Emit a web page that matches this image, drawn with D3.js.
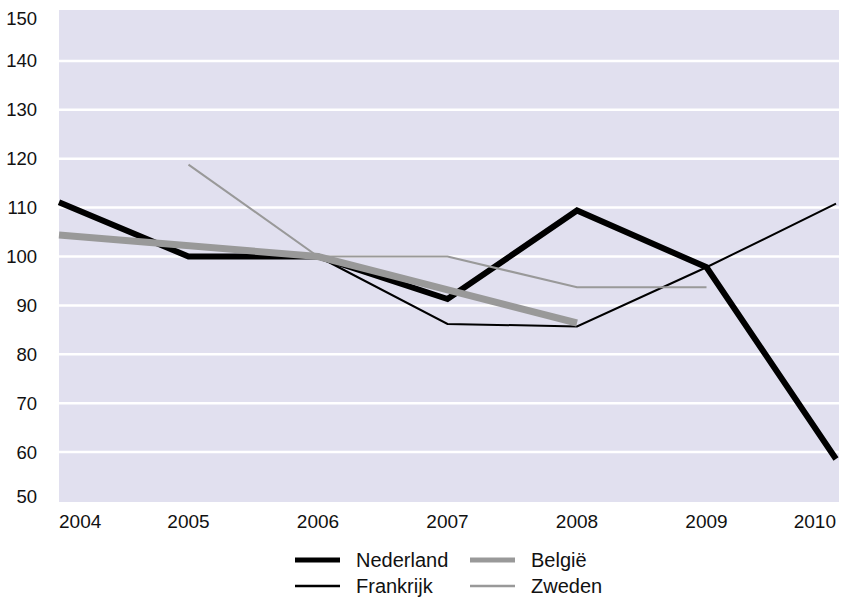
<!DOCTYPE html>
<html><head><meta charset="utf-8">
<script src="https://cdn.jsdelivr.net/npm/d3@7"></script>
<style>body{margin:0;background:#fff}svg{display:block}text{font-family:"Liberation Sans",Arial,sans-serif}</style>
</head><body><svg id="c" width="841" height="598"></svg>
<script>
const years = [2004, 2005, 2006, 2007, 2008, 2009, 2010];
const yTicks = [50, 60, 70, 80, 90, 100, 110, 120, 130, 140, 150];
const nederland = [111.1, 100, 100, 91.3, 109.4, 97.8, 58.6];
const belgie = [104.4, null, 100, null, 86.4, null, null];
const frankrijk = [null, null, 100, 86.2, 85.7, 97.8, 110.8];
const zweden = [null, 118.8, 100, 100, 93.7, 93.7, null];
const seriesNames = ["Nederland", "België", "Frankrijk", "Zweden"];

const series = [
  {name: seriesNames[0], values: nederland, color: "#000", width: 6},
  {name: seriesNames[2], values: frankrijk, color: "#000", width: 2},
  {name: seriesNames[3], values: zweden, color: "#999", width: 2},
  {name: seriesNames[1], values: belgie, color: "#999", width: 7},
];

const svg = d3.select("#c");
const pL = 59, pR = 839, pT = 10, pB = 502;
const x = d3.scaleLinear().domain([2004, 2010]).range([pL, 836]);
const y = d3.scaleLinear().domain([50, 150]).range([501, 12]);

svg.append("rect").attr("x", pL).attr("y", pT).attr("width", pR - pL).attr("height", pB - pT).attr("fill", "#e1e0ef");

svg.selectAll(".grid").data(yTicks.filter(d => d > 50 && d < 150)).join("line")
  .attr("x1", pL).attr("x2", pR).attr("y1", d => y(d)).attr("y2", d => y(d))
  .attr("stroke", "#fff").attr("stroke-width", 2.5);

svg.selectAll(".yl").data(yTicks).join("text")
  .attr("x", 37).attr("y", d => d === 150 ? 18 : d === 50 ? 496 : y(d))
  .attr("text-anchor", "end").attr("dominant-baseline", "central")
  .attr("font-size", 18.5).attr("fill", "#111").text(d => d);

svg.selectAll(".xl").data(years).join("text")
  .attr("x", (d, i) => i === 0 ? pL : i === years.length - 1 ? 836 : x(d))
  .attr("y", 521)
  .attr("text-anchor", (d, i) => i === 0 ? "start" : i === years.length - 1 ? "end" : "middle")
  .attr("dominant-baseline", "central")
  .attr("font-size", 19).attr("fill", "#111").text(d => d);

const line = d3.line().x(d => x(d[0])).y(d => y(d[1]));
series.forEach(s => {
  const pts = years.map((yr, i) => [yr, s.values[i]]).filter(d => d[1] != null);
  svg.append("path").attr("d", line(pts)).attr("fill", "none")
    .attr("stroke", s.color).attr("stroke-width", s.width).attr("stroke-linejoin", "miter");
});

const legend = [
  {name: seriesNames[0], color: "#000", width: 5, lx: 295, ly: 560},
  {name: seriesNames[1], color: "#999", width: 5, lx: 470, ly: 560},
  {name: seriesNames[2], color: "#000", width: 2.5, lx: 295, ly: 586},
  {name: seriesNames[3], color: "#999", width: 2.5, lx: 470, ly: 586},
];
legend.forEach(l => {
  svg.append("line").attr("x1", l.lx).attr("x2", l.lx + 45).attr("y1", l.ly).attr("y2", l.ly)
    .attr("stroke", l.color).attr("stroke-width", l.width);
  svg.append("text").attr("x", l.lx + 61).attr("y", l.ly).attr("dominant-baseline", "central")
    .attr("font-size", 20).attr("fill", "#111").text(l.name);
});
</script></body></html>
